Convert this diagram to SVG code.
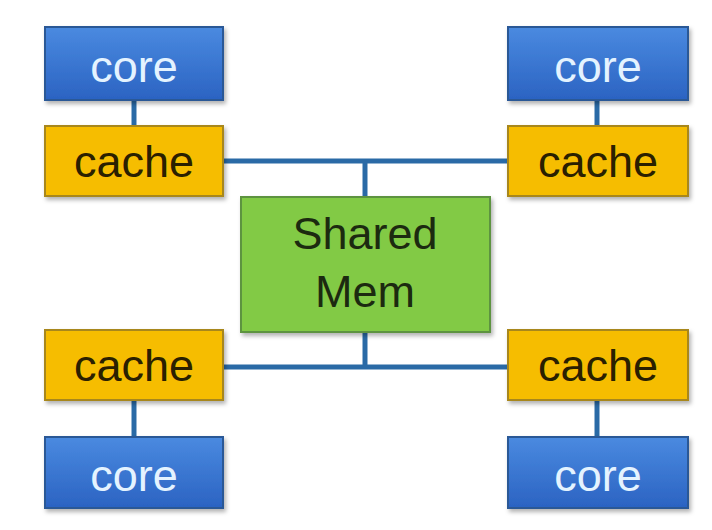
<svg xmlns="http://www.w3.org/2000/svg" width="712" height="530" viewBox="0 0 712 530">
<defs>
<linearGradient id="gCore" x1="0" y1="0" x2="0" y2="1">
<stop offset="0" stop-color="#4a8ae0"/>
<stop offset="1" stop-color="#2b63c2"/>
</linearGradient>
<filter id="sh" x="-10%" y="-10%" width="125%" height="130%">
<feDropShadow dx="2" dy="3" stdDeviation="2" flood-color="#000" flood-opacity="0.3"/>
</filter>
</defs>
<style>
.core{fill:url(#gCore);stroke:#2c5896;stroke-width:2;filter:url(#sh)}
.cache{fill:#f6bd00;stroke:#a8871e;stroke-width:2;filter:url(#sh)}
.mem{fill:#82ca45;stroke:#5d9340;stroke-width:2;filter:url(#sh)}
.t{font-family:"Liberation Sans",Arial,sans-serif;font-size:45px;text-anchor:middle}
.tc{fill:#e4f3ff}
.tk{fill:#2a2000}
.tm{fill:#1c2a10}
.ln{stroke:#2a6aa6;stroke-width:5;fill:none}
</style>
<rect width="712" height="530" fill="#ffffff"/>
<g id="connectors">
<line class="ln" x1="134" y1="100" x2="134" y2="126"/>
<line class="ln" x1="597" y1="100" x2="597" y2="126"/>
<line class="ln" x1="134" y1="400" x2="134" y2="437"/>
<line class="ln" x1="597" y1="400" x2="597" y2="437"/>
<line class="ln" x1="223" y1="161" x2="508" y2="161"/>
<line class="ln" x1="365" y1="161" x2="365" y2="197"/>
<line class="ln" x1="223" y1="367" x2="508" y2="367"/>
<line class="ln" x1="365" y1="332" x2="365" y2="367"/>
</g>
<g id="core-tl"><rect class="core" x="45" y="27" width="178" height="73"/><text class="t tc" x="134" y="82">core</text></g>
<g id="cache-tl"><rect class="cache" x="45" y="126" width="178" height="70"/><text class="t tk" x="134" y="177">cache</text></g>
<g id="core-tr"><rect class="core" x="508" y="27" width="180" height="73"/><text class="t tc" x="598" y="82">core</text></g>
<g id="cache-tr"><rect class="cache" x="508" y="126" width="180" height="70"/><text class="t tk" x="598" y="177">cache</text></g>
<g id="shared-mem"><rect class="mem" x="241" y="197" width="249" height="135"/><text class="t tm" x="365" y="249">Shared</text><text class="t tm" x="365" y="307">Mem</text></g>
<g id="cache-bl"><rect class="cache" x="45" y="330" width="178" height="70"/><text class="t tk" x="134" y="381">cache</text></g>
<g id="core-bl"><rect class="core" x="45" y="437" width="178" height="71"/><text class="t tc" x="134" y="491">core</text></g>
<g id="cache-br"><rect class="cache" x="508" y="330" width="180" height="70"/><text class="t tk" x="598" y="381">cache</text></g>
<g id="core-br"><rect class="core" x="508" y="437" width="180" height="71"/><text class="t tc" x="598" y="491">core</text></g>
</svg>
